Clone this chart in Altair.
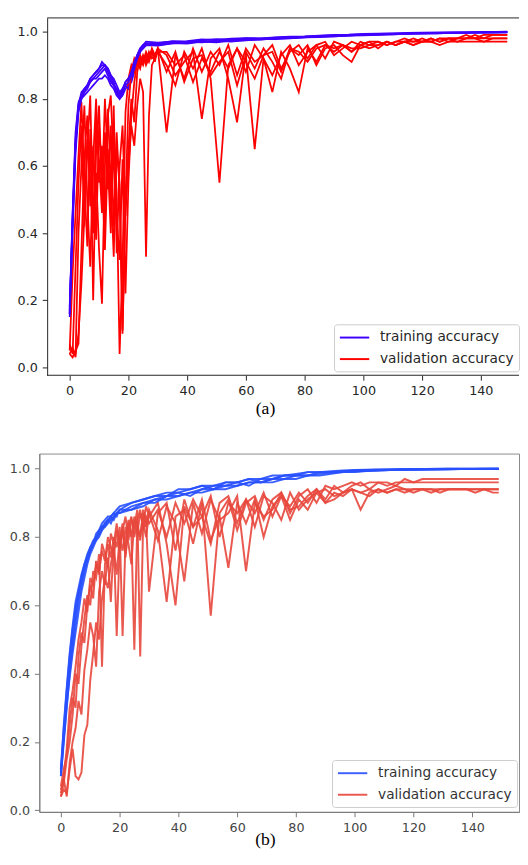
import altair as alt
import pandas as pd

LABELS = ["training accuracy", "validation accuracy"]
X_TICKS = [0, 20, 40, 60, 80, 100, 120, 140]
Y_TICKS = [0.0, 0.2, 0.4, 0.6, 0.8, 1.0]

# ---------------- panel (a) ----------------
A_TRAIN_EPOCHS = list(range(0, 27)) + list(range(30, 150, 5)) + [149]
A_VAL_EPOCHS = list(range(0, 31)) + list(range(33, 150, 3)) + [149]

A_TRAIN_1 = [0.16, 0.46, 0.70, 0.79, 0.81, 0.82, 0.83, 0.85, 0.86, 0.87, 0.88, 0.89, 0.90, 0.89, 0.87, 0.85, 0.82, 0.80, 0.81, 0.83, 0.84, 0.85, 0.88, 0.91, 0.94, 0.955, 0.96,
             0.962, 0.968, 0.966, 0.972, 0.970, 0.975, 0.977, 0.976, 0.980, 0.982, 0.984, 0.985, 0.987, 0.989, 0.990, 0.991, 0.993, 0.994, 0.995, 0.996, 0.997, 0.997, 0.998, 0.998, 0.999]
A_TRAIN_2 = [0.17, 0.43, 0.66, 0.77, 0.80, 0.81, 0.82, 0.83, 0.84, 0.85, 0.86, 0.86, 0.87, 0.86, 0.84, 0.83, 0.81, 0.80, 0.82, 0.84, 0.83, 0.86, 0.89, 0.92, 0.945, 0.95, 0.96,
             0.958, 0.965, 0.970, 0.968, 0.973, 0.970, 0.975, 0.979, 0.978, 0.981, 0.983, 0.986, 0.986, 0.988, 0.991, 0.992, 0.992, 0.994, 0.995, 0.995, 0.996, 0.997, 0.997, 0.998, 0.998]
A_TRAIN_3 = [0.15, 0.41, 0.64, 0.76, 0.80, 0.82, 0.84, 0.86, 0.87, 0.88, 0.89, 0.90, 0.90, 0.88, 0.86, 0.84, 0.83, 0.81, 0.82, 0.85, 0.86, 0.87, 0.90, 0.93, 0.95, 0.96, 0.965,
             0.965, 0.972, 0.969, 0.975, 0.978, 0.976, 0.980, 0.979, 0.982, 0.984, 0.985, 0.987, 0.989, 0.990, 0.992, 0.993, 0.994, 0.995, 0.996, 0.997, 0.997, 0.998, 0.998, 0.999, 0.999]
A_TRAIN_4 = [0.18, 0.45, 0.68, 0.78, 0.81, 0.83, 0.84, 0.85, 0.86, 0.86, 0.87, 0.88, 0.89, 0.87, 0.85, 0.84, 0.82, 0.81, 0.83, 0.84, 0.85, 0.87, 0.89, 0.92, 0.94, 0.95, 0.96,
             0.960, 0.966, 0.964, 0.970, 0.968, 0.973, 0.974, 0.977, 0.979, 0.980, 0.983, 0.984, 0.986, 0.988, 0.989, 0.990, 0.992, 0.993, 0.994, 0.995, 0.996, 0.996, 0.997, 0.997, 0.998]
A_TRAIN_5 = [0.16, 0.44, 0.67, 0.78, 0.82, 0.83, 0.84, 0.86, 0.87, 0.88, 0.89, 0.91, 0.90, 0.89, 0.87, 0.86, 0.84, 0.82, 0.83, 0.85, 0.86, 0.88, 0.91, 0.93, 0.95, 0.96, 0.97,
             0.967, 0.970, 0.972, 0.977, 0.975, 0.979, 0.981, 0.980, 0.983, 0.985, 0.986, 0.988, 0.990, 0.991, 0.993, 0.994, 0.995, 0.996, 0.997, 0.997, 0.998, 0.998, 0.999, 0.999, 1.0]

A_VAL_1 = [0.05, 0.28, 0.46, 0.63, 0.79, 0.56, 0.36, 0.71, 0.20, 0.64, 0.78, 0.52, 0.80, 0.61, 0.40, 0.73, 0.52, 0.04, 0.31, 0.76, 0.86, 0.90, 0.88, 0.92, 0.90, 0.93, 0.91, 0.94, 0.92, 0.93, 0.95,
           0.70, 0.93, 0.86, 0.95, 0.88, 0.94, 0.90, 0.96, 0.87, 0.95, 0.91, 0.93, 0.96, 0.89, 0.94, 0.96, 0.92, 0.96, 0.97, 0.93,
           0.95, 0.97, 0.96, 0.97, 0.97, 0.96, 0.97, 0.98, 0.97, 0.98, 0.97, 0.98, 0.98, 0.98, 0.98, 0.98, 0.98, 0.98, 0.98, 0.98]
A_VAL_2 = [0.07, 0.04, 0.30, 0.55, 0.72, 0.42, 0.65, 0.81, 0.45, 0.58, 0.35, 0.19, 0.60, 0.77, 0.55, 0.33, 0.70, 0.52, 0.10, 0.50, 0.78, 0.88, 0.92, 0.90, 0.93, 0.91, 0.94, 0.92, 0.95, 0.93, 0.94,
           0.90, 0.84, 0.94, 0.89, 0.95, 0.86, 0.55, 0.90, 0.95, 0.88, 0.96, 0.92, 0.87, 0.93, 0.96, 0.90, 0.94, 0.96, 0.92, 0.97,
           0.96, 0.94, 0.97, 0.96, 0.97, 0.96, 0.97, 0.97, 0.98, 0.97, 0.98, 0.97, 0.98, 0.98, 0.98, 0.99, 0.98, 0.99, 0.99, 0.99]
A_VAL_3 = [0.04, 0.06, 0.03, 0.40, 0.60, 0.78, 0.50, 0.30, 0.62, 0.80, 0.55, 0.66, 0.42, 0.75, 0.81, 0.60, 0.45, 0.32, 0.62, 0.22, 0.55, 0.75, 0.85, 0.91, 0.89, 0.93, 0.90, 0.92, 0.94, 0.91, 0.95,
           0.93, 0.87, 0.91, 0.94, 0.74, 0.92, 0.95, 0.86, 0.73, 0.94, 0.89, 0.95, 0.91, 0.86, 0.95, 0.93, 0.96, 0.90, 0.95, 0.96,
           0.93, 0.91, 0.96, 0.97, 0.95, 0.97, 0.96, 0.97, 0.97, 0.97, 0.98, 0.97, 0.98, 0.97, 0.98, 0.98, 0.97, 0.98, 0.98, 0.98]
A_VAL_4 = [0.04, 0.03, 0.05, 0.07, 0.35, 0.62, 0.75, 0.48, 0.66, 0.38, 0.72, 0.58, 0.35, 0.65, 0.48, 0.78, 0.34, 0.60, 0.72, 0.45, 0.65, 0.80, 0.73, 0.88, 0.92, 0.90, 0.93, 0.91, 0.94, 0.92, 0.95,
           0.88, 0.94, 0.85, 0.92, 0.93, 0.87, 0.91, 0.94, 0.84, 0.93, 0.65, 0.92, 0.82, 0.94, 0.89, 0.82, 0.95, 0.91, 0.96, 0.95,
           0.96, 0.94, 0.96, 0.95, 0.96, 0.97, 0.96, 0.97, 0.96, 0.97, 0.97, 0.96, 0.97, 0.97, 0.97, 0.97, 0.97, 0.97, 0.97, 0.97]
A_VAL_5 = [0.06, 0.05, 0.04, 0.10, 0.25, 0.45, 0.68, 0.55, 0.40, 0.74, 0.62, 0.46, 0.70, 0.53, 0.72, 0.42, 0.65, 0.55, 0.11, 0.48, 0.60, 0.72, 0.66, 0.78, 0.86, 0.82, 0.33, 0.75, 0.90, 0.92, 0.94,
           0.94, 0.90, 0.93, 0.85, 0.92, 0.88, 0.94, 0.89, 0.95, 0.91, 0.86, 0.93, 0.94, 0.88, 0.95, 0.94, 0.91, 0.95, 0.96, 0.94,
           0.96, 0.95, 0.95, 0.96, 0.96, 0.97, 0.96, 0.97, 0.96, 0.97, 0.97, 0.98, 0.97, 0.98, 0.99, 0.98, 0.99, 0.99, 0.99, 0.99]

# ---------------- panel (b) ----------------
B_TRAIN_EPOCHS = list(range(0, 21)) + list(range(24, 145, 4)) + [149]
B_VAL_EPOCHS = list(range(0, 31)) + list(range(33, 150, 3)) + [149]

B_TRAIN_1 = [0.11, 0.22, 0.33, 0.42, 0.50, 0.57, 0.63, 0.68, 0.72, 0.75, 0.77, 0.79, 0.80, 0.81, 0.83, 0.84, 0.85, 0.85, 0.86, 0.87, 0.87,
             0.89, 0.90, 0.91, 0.92, 0.92, 0.93, 0.94, 0.94, 0.95, 0.95, 0.96, 0.96, 0.97, 0.97, 0.98, 0.98, 0.985, 0.988, 0.99, 0.992,
             0.994, 0.995, 0.996, 0.997, 0.997, 0.998, 0.998, 0.999, 0.999, 0.999, 0.999, 1.0]
B_TRAIN_2 = [0.10, 0.20, 0.30, 0.40, 0.48, 0.55, 0.61, 0.66, 0.70, 0.73, 0.76, 0.78, 0.80, 0.82, 0.83, 0.83, 0.84, 0.86, 0.87, 0.86, 0.88,
             0.88, 0.89, 0.91, 0.91, 0.92, 0.93, 0.93, 0.94, 0.94, 0.95, 0.96, 0.96, 0.96, 0.97, 0.97, 0.98, 0.98, 0.985, 0.99, 0.99,
             0.993, 0.995, 0.996, 0.996, 0.997, 0.998, 0.998, 0.998, 0.999, 0.999, 0.999, 0.999]
B_TRAIN_3 = [0.12, 0.25, 0.36, 0.46, 0.54, 0.61, 0.65, 0.69, 0.72, 0.74, 0.77, 0.78, 0.79, 0.80, 0.82, 0.84, 0.85, 0.86, 0.85, 0.87, 0.88,
             0.90, 0.91, 0.92, 0.93, 0.93, 0.94, 0.95, 0.95, 0.96, 0.96, 0.97, 0.97, 0.98, 0.98, 0.985, 0.99, 0.99, 0.993, 0.995, 0.996,
             0.997, 0.998, 0.998, 0.999, 0.999, 0.999, 1.0, 1.0, 1.0, 1.0, 1.0, 1.0]
B_TRAIN_4 = [0.10, 0.21, 0.31, 0.39, 0.46, 0.52, 0.58, 0.64, 0.68, 0.72, 0.75, 0.77, 0.79, 0.81, 0.82, 0.83, 0.85, 0.84, 0.86, 0.87, 0.87,
             0.88, 0.90, 0.90, 0.92, 0.93, 0.92, 0.94, 0.95, 0.95, 0.96, 0.95, 0.97, 0.97, 0.98, 0.98, 0.98, 0.99, 0.99, 0.992, 0.994,
             0.995, 0.996, 0.997, 0.998, 0.998, 0.998, 0.999, 0.999, 0.999, 0.999, 1.0, 1.0]
B_TRAIN_5 = [0.11, 0.24, 0.35, 0.45, 0.53, 0.59, 0.64, 0.67, 0.71, 0.74, 0.76, 0.78, 0.81, 0.82, 0.84, 0.85, 0.86, 0.86, 0.87, 0.88, 0.89,
             0.90, 0.91, 0.92, 0.92, 0.94, 0.94, 0.95, 0.94, 0.96, 0.96, 0.97, 0.96, 0.97, 0.98, 0.98, 0.99, 0.99, 0.99, 0.993, 0.995,
             0.996, 0.997, 0.998, 0.998, 0.999, 0.999, 0.999, 1.0, 1.0, 1.0, 1.0, 1.0]

B_VAL_1 = [0.05, 0.10, 0.18, 0.30, 0.35, 0.42, 0.50, 0.55, 0.62, 0.58, 0.68, 0.66, 0.72, 0.70, 0.76, 0.73, 0.80, 0.77, 0.74, 0.82, 0.79, 0.84, 0.75, 0.83, 0.86, 0.80, 0.85, 0.88, 0.82, 0.86, 0.84,
           0.88, 0.80, 0.90, 0.84, 0.91, 0.86, 0.78, 0.90, 0.92, 0.84, 0.91, 0.87, 0.93, 0.86, 0.92, 0.89, 0.93, 0.90, 0.94, 0.91,
           0.95, 0.93, 0.95, 0.96, 0.94, 0.96, 0.96, 0.95, 0.97, 0.96, 0.97, 0.97, 0.97, 0.97, 0.97, 0.97, 0.97, 0.97, 0.97, 0.97]
B_VAL_2 = [0.04, 0.08, 0.15, 0.20, 0.28, 0.40, 0.37, 0.48, 0.56, 0.63, 0.60, 0.70, 0.68, 0.75, 0.42, 0.72, 0.78, 0.74, 0.80, 0.77, 0.83, 0.51, 0.79, 0.85, 0.81, 0.47, 0.84, 0.80, 0.87, 0.83, 0.88,
           0.82, 0.61, 0.86, 0.88, 0.78, 0.90, 0.57, 0.87, 0.91, 0.82, 0.90, 0.92, 0.85, 0.91, 0.93, 0.87, 0.92, 0.94, 0.90, 0.95,
           0.94, 0.95, 0.96, 0.95, 0.96, 0.96, 0.95, 0.96, 0.96, 0.96, 0.96, 0.96, 0.96, 0.96, 0.96, 0.96, 0.96, 0.96, 0.96, 0.96]
B_VAL_3 = [0.07, 0.12, 0.16, 0.25, 0.33, 0.30, 0.45, 0.52, 0.49, 0.60, 0.66, 0.62, 0.73, 0.69, 0.78, 0.75, 0.71, 0.81, 0.78, 0.84, 0.76, 0.82, 0.86, 0.79, 0.85, 0.83, 0.88, 0.45, 0.84, 0.89, 0.86,
           0.90, 0.78, 0.60, 0.89, 0.83, 0.91, 0.79, 0.86, 0.71, 0.90, 0.84, 0.91, 0.80, 0.89, 0.92, 0.85, 0.91, 0.88, 0.93, 0.90,
           0.91, 0.93, 0.94, 0.93, 0.94, 0.93, 0.94, 0.95, 0.94, 0.94, 0.94, 0.94, 0.94, 0.94, 0.94, 0.94, 0.94, 0.94, 0.94, 0.94]
B_VAL_4 = [0.04, 0.06, 0.05, 0.12, 0.18, 0.10, 0.09, 0.11, 0.22, 0.25, 0.38, 0.46, 0.55, 0.50, 0.62, 0.68, 0.65, 0.72, 0.77, 0.69, 0.80, 0.76, 0.83, 0.78, 0.72, 0.85, 0.81, 0.87, 0.84, 0.80, 0.87,
           0.79, 0.89, 0.84, 0.67, 0.90, 0.81, 0.91, 0.85, 0.87, 0.92, 0.70, 0.90, 0.86, 0.88, 0.93, 0.88, 0.89, 0.92, 0.94, 0.90,
           0.93, 0.92, 0.94, 0.88, 0.93, 0.94, 0.93, 0.94, 0.94, 0.93, 0.94, 0.94, 0.93, 0.94, 0.94, 0.94, 0.93, 0.94, 0.93, 0.93]
B_VAL_5 = [0.06, 0.09, 0.04, 0.14, 0.20, 0.24, 0.32, 0.28, 0.41, 0.47, 0.55, 0.51, 0.42, 0.64, 0.70, 0.66, 0.74, 0.61, 0.79, 0.51, 0.77, 0.82, 0.74, 0.84, 0.80, 0.86, 0.83, 0.79, 0.88, 0.85, 0.64,
           0.87, 0.90, 0.76, 0.91, 0.83, 0.86, 0.92, 0.80, 0.90, 0.87, 0.91, 0.83, 0.92, 0.90, 0.85, 0.93, 0.88, 0.91, 0.93, 0.94,
           0.92, 0.93, 0.94, 0.93, 0.92, 0.94, 0.93, 0.94, 0.93, 0.94, 0.94, 0.93, 0.94, 0.94, 0.94, 0.94, 0.94, 0.94, 0.94, 0.94]


def long_table(train_epochs, train_runs, val_epochs, val_runs):
    rows = []
    for i, (tr, va) in enumerate(zip(train_runs, val_runs)):
        assert len(tr) == len(train_epochs), (i, len(tr), len(train_epochs))
        assert len(va) == len(val_epochs), (i, len(va), len(val_epochs))
        for e, a in zip(train_epochs, tr):
            rows.append({"epoch": e, "acc": a, "kind": LABELS[0], "series": f"f{i}a"})
        for e, a in zip(val_epochs, va):
            rows.append({"epoch": e, "acc": a, "kind": LABELS[1], "series": f"f{i}b"})
    return pd.DataFrame(rows)


df_a = long_table(A_TRAIN_EPOCHS, [A_TRAIN_1, A_TRAIN_2, A_TRAIN_3, A_TRAIN_4, A_TRAIN_5],
                  A_VAL_EPOCHS, [A_VAL_1, A_VAL_2, A_VAL_3, A_VAL_4, A_VAL_5])
df_b = long_table(B_TRAIN_EPOCHS, [B_TRAIN_1, B_TRAIN_2, B_TRAIN_3, B_TRAIN_4, B_TRAIN_5],
                  B_VAL_EPOCHS, [B_VAL_1, B_VAL_2, B_VAL_3, B_VAL_4, B_VAL_5])

W = 490
H_A = 365
H_B = 366
FONT = "DejaVu Sans"


def legend(label_color, x, y):
    return alt.Legend(
        title=None, orient="none", legendX=x, legendY=y,
        symbolType="M-2,0H2", symbolSize=225, symbolStrokeWidth=2, symbolOffset=7.5,
        labelFont=FONT, labelFontSize=14, labelColor=label_color, labelOffset=17.5,
        labelLimit=400, padding=5, rowPadding=6,
        strokeColor="#cccccc", fillColor="#ffffff", cornerRadius=3,
    )


# ----- panel (a) -----
line_a = alt.Chart(df_a).mark_line(strokeWidth=1.8).encode(
    x=alt.X("epoch:Q", scale=alt.Scale(domain=[-10.333, 153.0], nice=False, zero=False),
            axis=alt.Axis(values=X_TICKS, title=None, grid=False, domain=False, tickSize=5, tickColor="#222222",
                          labelPadding=5, labelFont=FONT, labelFontSize=13, labelColor="#262626",
                          labelFlush=False, format="d")),
    y=alt.Y("acc:Q", scale=alt.Scale(domain=[-0.0233, 1.0408], nice=False, zero=False),
            axis=alt.Axis(values=Y_TICKS, title=None, grid=False, offset=-8, domainColor="#222222",
                          tickSize=5, tickColor="#222222", labelPadding=5, labelFont=FONT, labelFontSize=13,
                          labelColor="#262626", format=".1f", minExtent=0)),
    color=alt.Color("kind:N", scale=alt.Scale(domain=LABELS, range=["#3f00ff", "#ff0000"]),
                    legend=legend("#262626", 301, 313)),
    detail="series:N",
)
frame_top_a = alt.Chart(pd.DataFrame({"k": [0]})).mark_rule(color="#222222", strokeWidth=1).encode(
    x=alt.value(8), x2=alt.value(W), y=alt.value(0))
frame_bot_a = alt.Chart(pd.DataFrame({"k": [0]})).mark_rule(color="#222222", strokeWidth=1).encode(
    x=alt.value(8), x2=alt.value(W), y=alt.value(H_A))

panel_a = alt.layer(line_a, frame_top_a, frame_bot_a).properties(
    width=W, height=H_A, view=alt.ViewBackground(stroke="transparent"),
    title=alt.TitleParams("(a)", orient="bottom", anchor="middle", frame="group", dx=-14, offset=3,
                          font="Liberation Serif", fontSize=18, fontWeight="normal", color="#000000"),
)

# ----- panel (b) -----
line_b = alt.Chart(df_b).mark_line(strokeWidth=2, opacity=0.9).encode(
    x=alt.X("epoch:Q", scale=alt.Scale(domain=[-7.33, 155.9], nice=False, zero=False),
            axis=alt.Axis(values=X_TICKS, title=None, grid=False, domainColor="#777777", tickSize=5,
                          tickColor="#777777", labelPadding=5, labelFont=FONT, labelFontSize=13,
                          labelColor="#444444", labelFlush=False, format="d")),
    y=alt.Y("acc:Q", scale=alt.Scale(domain=[-0.0049, 1.0444], nice=False, zero=False),
            axis=alt.Axis(values=Y_TICKS, title=None, grid=False, domainColor="#777777", tickSize=5,
                          tickColor="#777777", labelPadding=5, labelFont=FONT, labelFontSize=13,
                          labelColor="#444444", format=".1f", minExtent=29, maxExtent=29)),
    color=alt.Color("kind:N", scale=alt.Scale(domain=LABELS, range=["#2850ff", "#e8473c"]),
                    legend=legend("#333333", 299, 313)),
    detail="series:N",
)

panel_b = alt.layer(line_b).properties(
    width=W, height=H_B, view=alt.ViewBackground(stroke="#888888"),
    title=alt.TitleParams("(b)", orient="bottom", anchor="middle", frame="group", dx=-14, offset=-3,
                          font="Liberation Serif", fontSize=18, fontWeight="normal", color="#000000"),
)

chart = alt.vconcat(panel_a, panel_b, spacing=34).resolve_scale(color="independent").properties(
    padding={"left": 0, "top": 0, "right": 0, "bottom": 0},
).configure_view(strokeWidth=1)

chart.save("out.html", embed_options={"renderer": "svg", "actions": False})
